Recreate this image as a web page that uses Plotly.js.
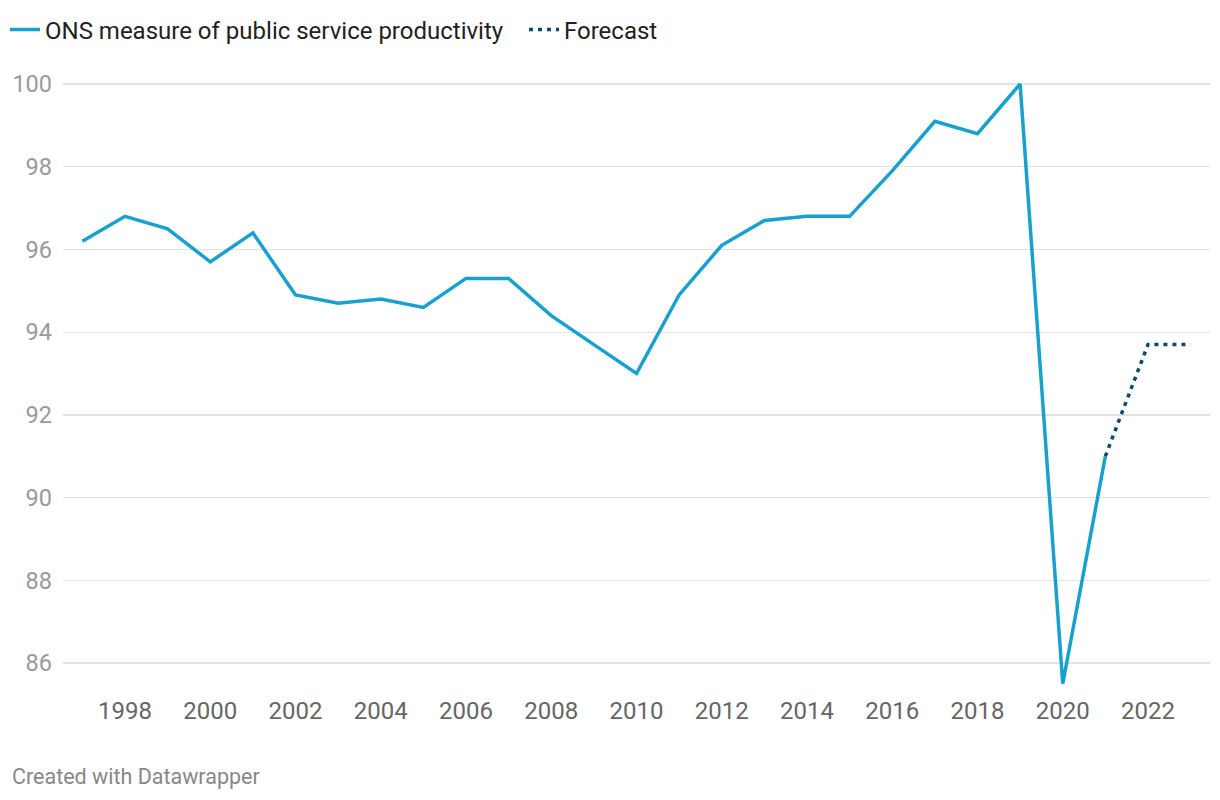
<!DOCTYPE html>
<html>
<head>
<meta charset="utf-8">
<script src="https://cdn.plot.ly/plotly-3.0.1.min.js"></script>
<style>html,body{margin:0;padding:0;background:#fff;}#chart{width:1220px;height:800px;}</style>
</head>
<body>
<div id="chart"></div>
<script>
const years = [1997,1998,1999,2000,2001,2002,2003,2004,2005,2006,2007,2008,2009,2010,2011,2012,2013,2014,2015,2016,2017,2018,2019,2020,2021];
const productivity = [96.2,96.8,96.5,95.7,96.4,94.9,94.7,94.8,94.6,95.3,95.3,94.4,93.7,93.0,94.9,96.1,96.7,96.8,96.8,97.9,99.1,98.8,100.0,85.5,91.0];
const forecastYears = [2021,2022,2023];
const forecast = [91.0,93.7,93.7];
const xTicks = [1998,2000,2002,2004,2006,2008,2010,2012,2014,2016,2018,2020,2022];
const yTicks = [86,88,90,92,94,96,98,100];

const traces = [
  {x: years, y: productivity, type:'scatter', mode:'lines', name:'ONS measure of public service productivity',
   line:{color:'#18a1cd', width:3.5}, hoverinfo:'x+y'},
  {x: forecastYears, y: forecast, type:'scatter', mode:'lines', name:'Forecast',
   line:{color:'#0b4a6f', width:3.5, dash:'4px,5px'}, hoverinfo:'x+y'}
];

const layout = {
  width:1220, height:800,
  margin:{l:63, r:10, t:80, b:108},
  paper_bgcolor:'#fff', plot_bgcolor:'#fff',
  font:{family:'Roboto, sans-serif', color:'#333'},
  showlegend:true,
  legend:{orientation:'h', xref:'container', yref:'container', x:5/1220, y:1-30/800, yanchor:'middle', xanchor:'left',
    font:{size:24, color:'#222'}, itemwidth:30, traceorder:'normal', bgcolor:'rgba(0,0,0,0)',
    entrywidth:474, entrywidthmode:'pixels'},
  xaxis:{range:[1996.545,2023.455], tickvals:xTicks, ticktext:xTicks.map(String), showgrid:false, zeroline:false,
    showline:false, ticks:'', tickfont:{size:24, color:'#666'}, ticklabelstandoff:2, fixedrange:true},
  yaxis:{range:[85.30,100.097], tickvals:yTicks, ticktext:yTicks.map(String), showgrid:true, gridcolor:'#e2e2e2', gridwidth:1.3,
    zeroline:false, showline:false, ticks:'', tickfont:{size:23.5, color:'#9a9a9a'}, ticklabelstandoff:10, fixedrange:true},
  annotations:[{text:'Created with Datawrapper', xref:'paper', yref:'paper', x:-53/1147, y:(692-776)/612,
    xanchor:'left', yanchor:'middle', showarrow:false, font:{size:21.5, color:'#888'}}]
};

Plotly.newPlot('chart', traces, layout, {displayModeBar:false, staticPlot:true});
</script>
</body>
</html>
